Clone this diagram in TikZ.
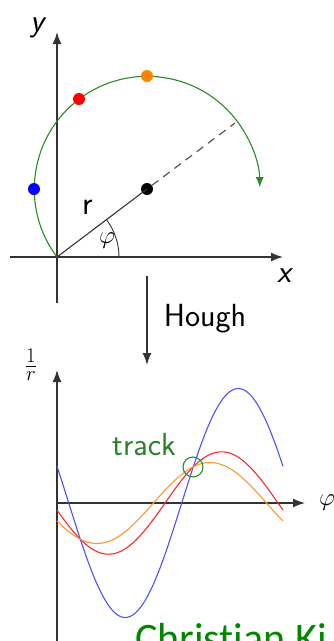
\documentclass[tikz,border=0pt]{standalone}
\usepackage{fontspec}
\newfontfamily\footfont[Ligatures=NoCommon]{Carlito}
\usetikzlibrary{arrows.meta}
\definecolor{trackgreen}{RGB}{40,130,40}
\definecolor{arcgreen}{RGB}{40,140,40}
\definecolor{footgreen}{RGB}{0,135,0}
\definecolor{curveblue}{RGB}{80,80,255}
\definecolor{curvered}{RGB}{255,40,40}
\definecolor{curveorange}{RGB}{255,150,50}
\definecolor{dotorange}{RGB}{255,130,0}
\tikzset{
  axisline/.style={line width=1.4pt, draw=black!80, -{Latex[length=12pt,width=9pt]}},
  hitdot/.style={circle, inner sep=0pt, minimum size=12pt},
  curveline/.style={line width=1.1pt},
  lbl/.style={font=\fontsize{32}{38}\selectfont\sffamily, inner sep=0pt},
}
\begin{document}
\begin{tikzpicture}[x=1pt,y=-1pt]
\useasboundingbox (0,0) rectangle (333,641);
% ---------- upper plot ----------
\coordinate (O1) at (57,257);
\coordinate (ybot) at (57,303);
\coordinate (ytop) at (57,32);
\coordinate (xleft) at (10,257);
\coordinate (xright) at (283,257);
\draw[axisline] (ybot) -- (ytop);
\draw[axisline] (xleft) -- (xright);
\node[lbl] (ylab) at (37,28) {\itshape y};
\node[lbl] (xlab) at (284,276) {\itshape x};
% track circle arc
\draw[arcgreen, line width=1.1pt, -{Latex[length=10pt,width=8pt]}] (O1) arc[start angle=217, end angle=1, radius=112.8pt];
% centre and lines
\node[hitdot, fill=black] (C) at (147,189) {};
\coordinate (Cend) at (235,123);
\draw[line width=1.1pt, black!80] (O1) -- (C.center);
\draw[line width=1.1pt, black!70, dash pattern=on 8pt off 6pt] (C) -- (Cend);
\draw[line width=0.9pt, black!80] (119,257) arc[start angle=0, end angle=37, radius=62pt];
\node[lbl, font=\fontsize{30}{36}\selectfont] (philab) at (107,241) {$\varphi$};
\node[lbl, font=\fontsize{33}{38}\selectfont\sffamily] (rlab) at (88,207) {r};
% hits
\node[hitdot, fill=blue] (hb) at (34,189) {};
\node[hitdot, fill=red] (hr) at (79,99) {};
\node[hitdot, fill=dotorange] (ho) at (147,76) {};
% ---------- Hough arrow ----------
\coordinate (hs) at (147,276);
\coordinate (he) at (147,365);
\draw[axisline] (hs) -- (he);
\node[lbl] (hough) at (205,319) {Hough};
% ---------- lower plot ----------
\coordinate (O2) at (57,503);
\coordinate (vbot) at (57,645);
\coordinate (vtop) at (57,370);
\coordinate (hright) at (305,503);
\draw[axisline] (vbot) -- (vtop);
\draw[axisline] (O2) -- (hright);
\node[lbl, font=\fontsize{28}{34}\selectfont] (invr) at (31,365) {$\frac{1}{r}$};
\node[lbl, font=\fontsize{30}{36}\selectfont, anchor=west] (philab2) at (319,503) {$\varphi$};
\draw[curveline, curveblue] plot[domain=-180:180, samples=120, smooth] ({57+(\x+180)/360*226}, {503-114.5*cos(\x-108.7)});
\draw[curveline, curvered] plot[domain=-180:180, samples=120, smooth] ({57+(\x+180)/360*226}, {503-51.2*cos(\x-82.1)});
\draw[curveline, curveorange] plot[domain=-180:180, samples=120, smooth] ({57+(\x+180)/360*226}, {503-40.5*cos(\x-63.7)});
\node[circle, draw=arcgreen, line width=1.1pt, minimum size=20pt, inner sep=0pt] (trk) at (193,467) {};
\node[lbl, text=trackgreen] (tracklab) at (144,445) {track};
% footer
\node[font=\fontsize{42}{50}\selectfont\footfont, text=footgreen, inner sep=0pt, anchor=base west] (foot) at (135,652) {Christian Ki};
\end{tikzpicture}
\end{document}
